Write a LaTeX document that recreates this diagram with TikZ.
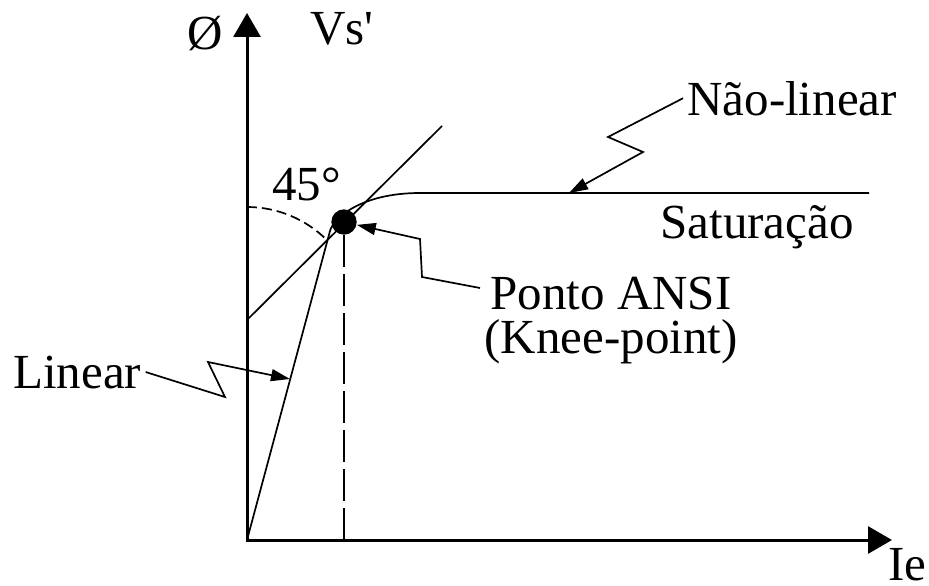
\documentclass[tikz,border=0pt]{standalone}
\usepackage{fontspec}
\setmainfont{Liberation Serif}[Ligatures=TeXOff]
\usetikzlibrary{arrows.meta}
\usetikzlibrary{positioning}

\begin{document}
\begin{tikzpicture}[x=0.5pt, y=0.5pt,
		lbl/.style={font=\fontsize{24.5}{22}\selectfont, inner sep=2pt},
		axisline/.style={line width=1.5pt, line join=miter, {Triangle[length=12pt,width=13.5pt]}-{Triangle[length=12pt,width=13.5pt]}},
		thinline/.style={line width=0.85pt},
		leader/.style={line width=0.85pt, -{Triangle[length=9.5pt,width=6pt]}}]
		\useasboundingbox (0,0) rectangle (929,585);

		% Axes
		\coordinate (O) at (247,45);
		\coordinate (ytip) at (247,572);
		\coordinate (xtip) at (892,45);
		\draw[axisline] (ytip) -- (O) -- (xtip);

		% Knee point and its projection
		\node[circle, fill, minimum size=12.7pt, inner sep=0pt] (knee) at (344,363) {};
		\coordinate (kfoot) at (344,45);
		\draw[thinline, dash pattern=on 16pt off 3.5pt] (knee) -- (kfoot);

		% Excitation curve
		\coordinate (k1) at (330,354);
		\coordinate (s0) at (420,392);
		\coordinate (s1) at (869,392);
		\draw[thinline] (O) -- (k1) .. controls (333,366) and (360,392) .. (s0) -- (s1);

		% Tangent at 45 degrees
		\coordinate (t0) at (247,265);
		\coordinate (t1) at (442,459);
		\draw[thinline] (t0) -- (t1);
		\coordinate (a0) at (247,378);
		\draw[thinline, dash pattern=on 5pt off 2.5pt] (a0) arc[start angle=90, end angle=45, radius=113];

		% Labels
		\node[lbl, anchor=base west] (phi) at (183,535) {Ø};
		\node[lbl, anchor=base west] (vs) at (306,540) {Vs'};
		\node[lbl, anchor=base west] (ang) at (268,385) {45°};
		\node[lbl, anchor=base west] (nl) at (683,470) {Não-linear};
		\node[lbl, anchor=base west] (sat) at (656,347) {Saturação};
		\node[lbl, anchor=north, align=center] (ponto) at (611,312) {Ponto ANSI\\(Knee-point)};
		\node[lbl, anchor=base west] (lin) at (9,197) {Linear};
		\node[lbl, anchor=base west] (ie) at (884,5) {Ie};

		% Leaders
		\coordinate (l1) at (225,188);
		\coordinate (l2) at (208,223);
		\coordinate (l3) at (290,206);
		\draw[leader] (lin.east) -- (l1) -- (l2) -- (l3);

		\coordinate (n1) at (608,448);
		\coordinate (n2) at (643,433);
		\coordinate (n3) at (569,392);
		\draw[leader] (nl.west) -- (n1) -- (n2) -- (n3);

		\coordinate (p0) at ([yshift=-7.5pt]ponto.north west);
		\coordinate (p1) at (422,308);
		\coordinate (p2) at (420,346);
		\draw[leader] (p0) -- (p1) -- (p2) -- (knee);
	\end{tikzpicture}
\end{document}
